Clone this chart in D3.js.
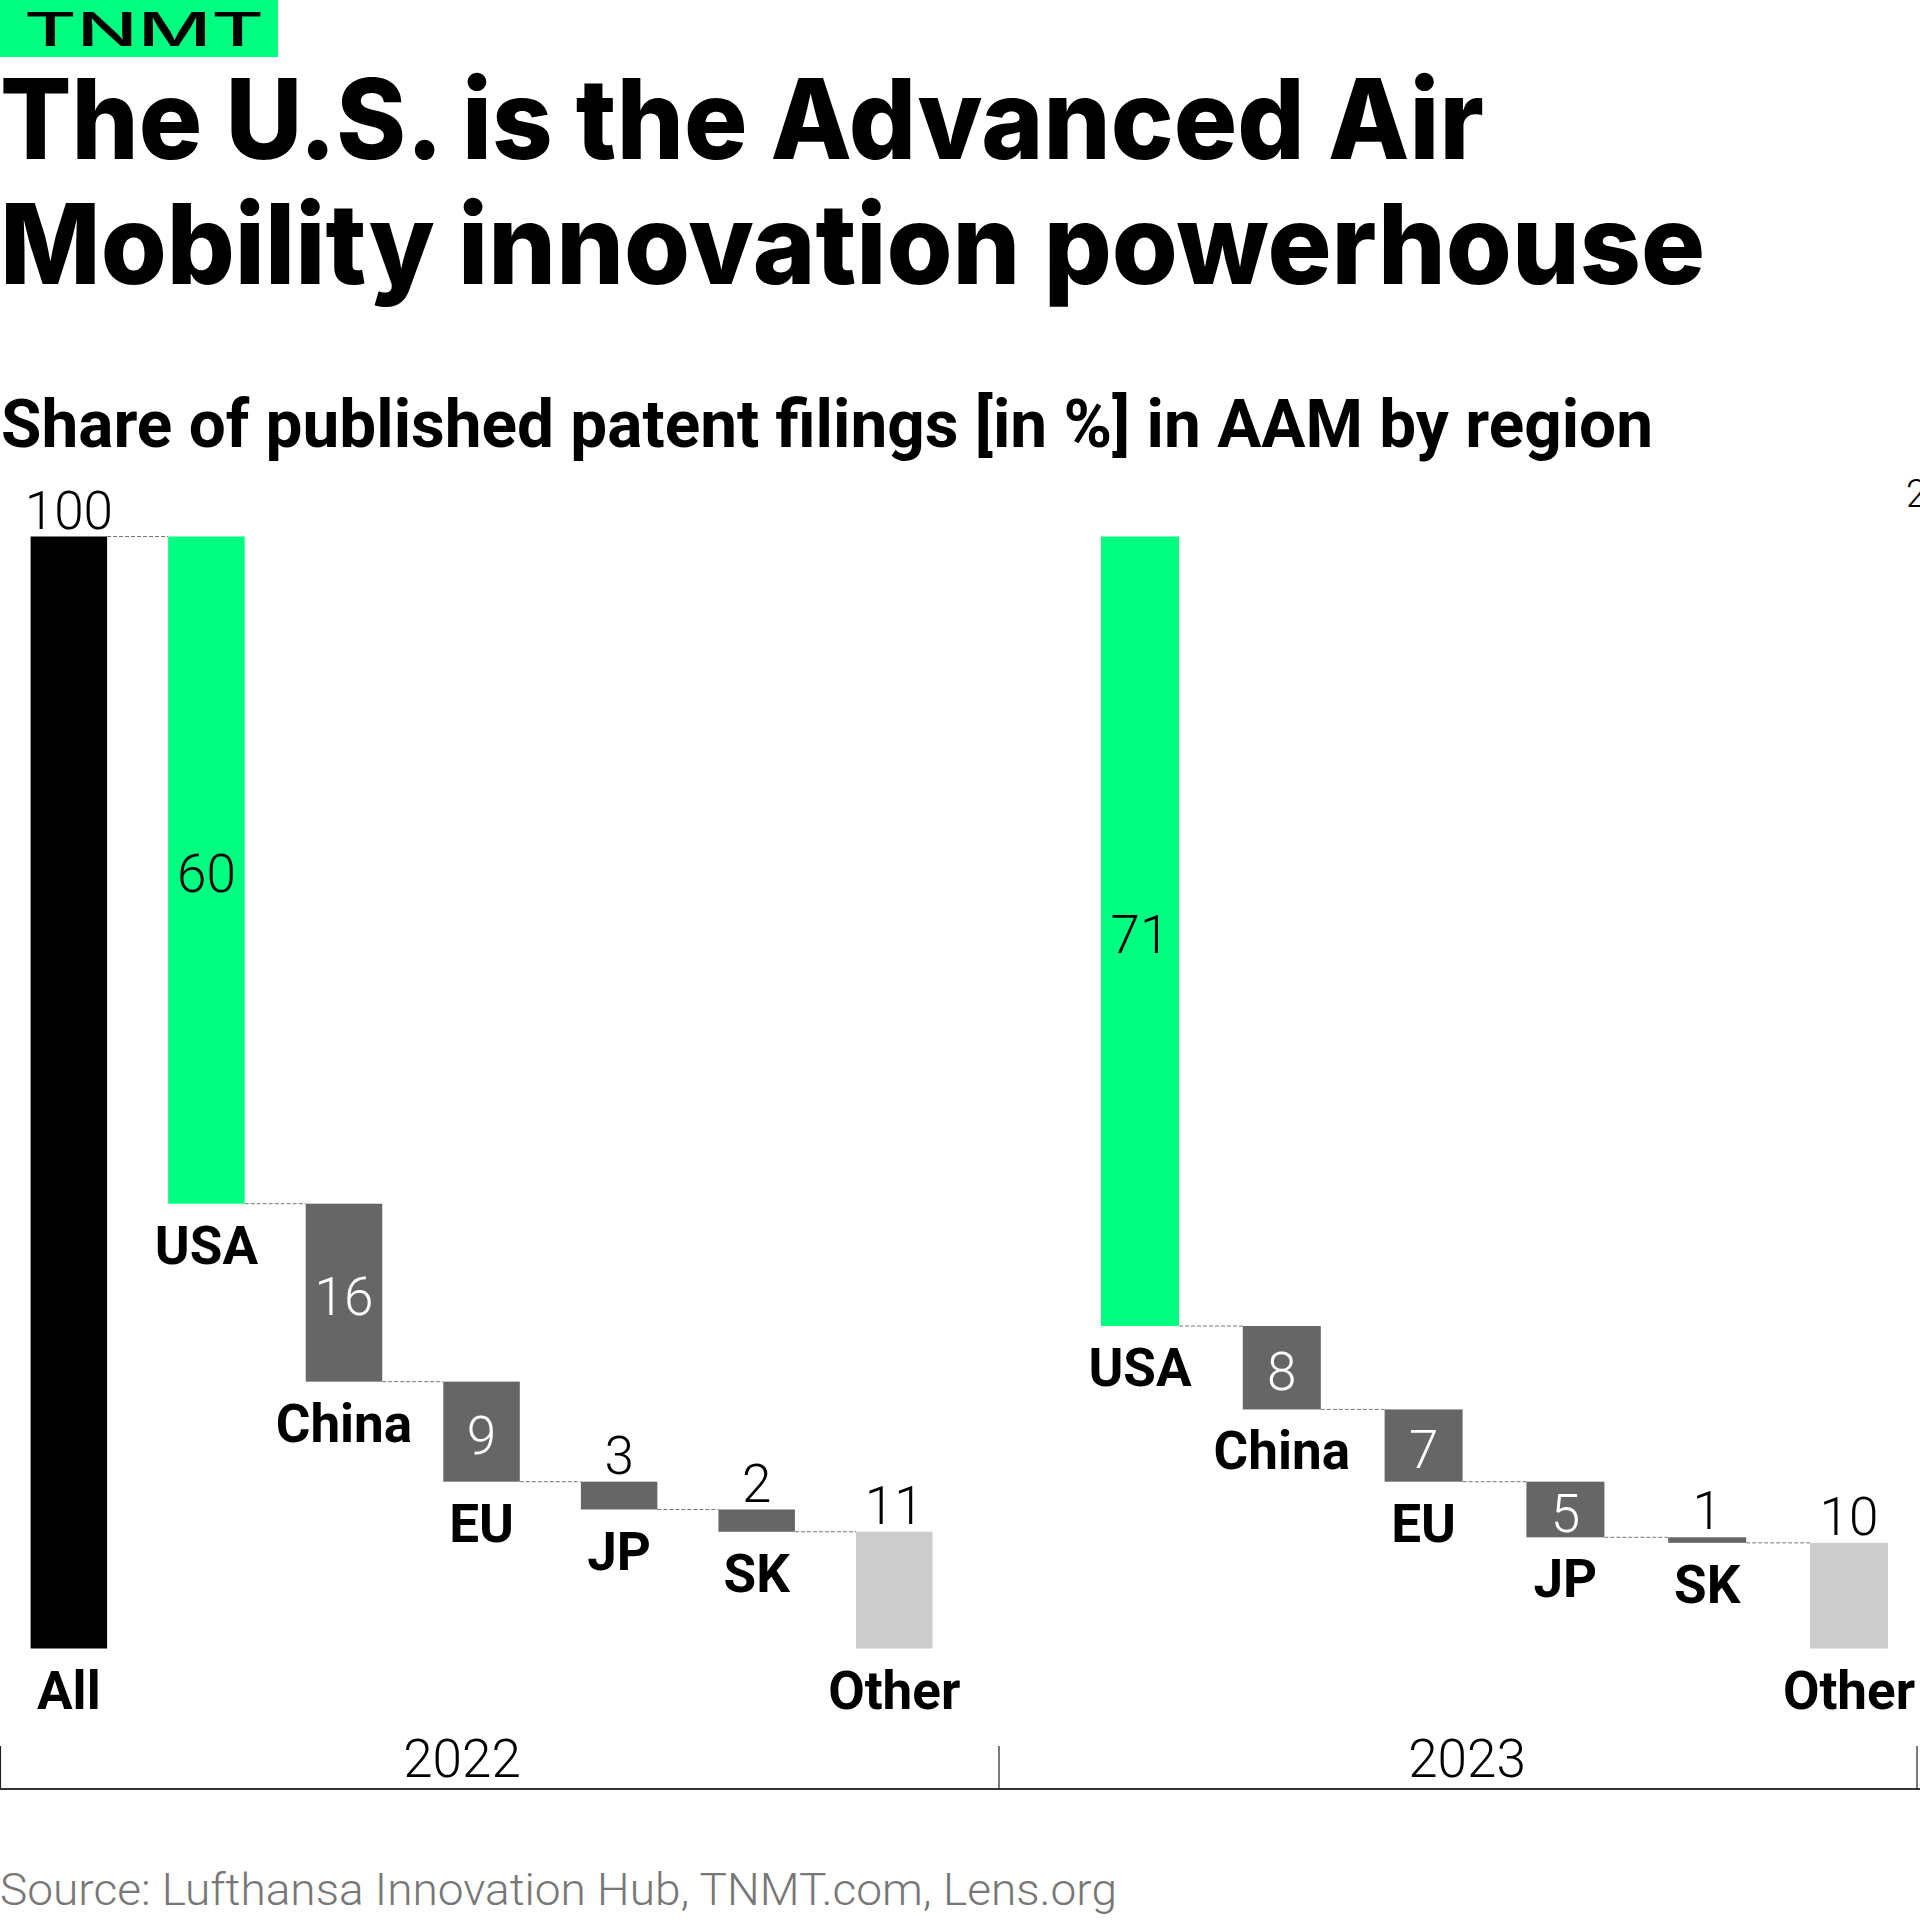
<!DOCTYPE html>
<html>
<head>
<meta charset="utf-8">
<script src="https://cdn.jsdelivr.net/npm/d3@7"></script>
<style>
  html, body { margin: 0; padding: 0; background: #fff; }
  svg { display: block; }
</style>
</head>
<body>
<div id="chart"></div>
<script>
// ---------------- DATA ----------------
const years = ["2022", "2023"];
const categories2022 = ["All", "USA", "China", "EU", "JP", "SK", "Other"];
const values2022 = [100, 60, 16, 9, 2.5, 2, 10.5];
const categories2023 = ["USA", "China", "EU", "JP", "SK", "Other"];
const values2023 = [71, 7.5, 6.5, 5, 0.5, 9.5];
const yDomain = [0, 100];

const titleLines = ["The U.S. is the Advanced Air", "Mobility innovation powerhouse"];
const subtitle = "Share of published patent filings [in %] in AAM by region";
const sourceText = "Source: Lufthansa Innovation Hub, TNMT.com, Lens.org";
const logoText = "TNMT";

// ---------------- STYLE / LAYOUT ----------------
const W = 1920, H = 1920;
const GREEN = "#00FF80", DARK = "#666666", LIGHT = "#CCCCCC", BLACK = "#000000";
const numFont = "Roboto, 'Liberation Sans', sans-serif";

const svg = d3.select("#chart").append("svg")
  .attr("width", W).attr("height", H)
  .attr("viewBox", `0 0 ${W} ${H}`);
svg.append("rect").attr("width", W).attr("height", H).attr("fill", "#fff");

// Logo
svg.append("rect").attr("x", 0).attr("y", 0).attr("width", 278).attr("height", 57).attr("fill", GREEN);
svg.append("text").attr("x", 24).attr("y", 45.5)
  .attr("font-family", "Inter, sans-serif").attr("font-weight", 500).attr("font-size", 46)
  .attr("textLength", 240).attr("lengthAdjust", "spacingAndGlyphs")
  .attr("fill", BLACK).text(logoText);

// Title
const titleWidths = [1484, 1705];
const titleBase = [159, 284];
titleLines.forEach((t, i) => {
  svg.append("text").attr("x", 0).attr("y", titleBase[i])
    .attr("font-family", "Inter, sans-serif").attr("font-weight", 800).attr("font-size", 111)
    .attr("textLength", titleWidths[i]).attr("lengthAdjust", "spacingAndGlyphs")
    .attr("fill", BLACK).text(t);
});

// Subtitle
svg.append("text").attr("x", 1).attr("y", 447)
  .attr("font-family", "Roboto, sans-serif").attr("font-weight", 700).attr("font-size", 67)
  .attr("textLength", 1652).attr("lengthAdjust", "spacingAndGlyphs")
  .attr("fill", BLACK).text(subtitle);

// Clipped label at the top right edge (as in the reference)
svg.append("text").attr("x", 1906).attr("y", 507)
  .attr("font-family", numFont).attr("font-weight", 300).attr("font-size", 38)
  .attr("fill", BLACK).text("2");

// ---------------- CHART ----------------
const y = d3.scaleLinear().domain(yDomain).range([1648.5, 536.5]);

const sections = [
  { year: years[0], cats: categories2022, vals: values2022, range: [30.6, 932.5], pad: 0.444 },
  { year: years[1], cats: categories2023, vals: values2023, range: [1101, 1888], pad: 0.45 }
];

function colorFor(cat) {
  if (cat === "All") return BLACK;
  if (cat === "USA") return GREEN;
  if (cat === "Other") return LIGHT;
  return DARK;
}

sections.forEach(sec => {
  const x = d3.scaleBand().domain(sec.cats).range(sec.range).paddingInner(sec.pad).paddingOuter(0);
  const total = d3.sum(sec.cats.map((c, i) => c === "All" ? 0 : sec.vals[i]));
  let running = total;
  const bars = sec.cats.map((c, i) => {
    const v = sec.vals[i];
    let lo, hi;
    if (c === "All") { lo = 0; hi = v; running = v; }
    else if (c === "Other") { lo = 0; hi = v; }
    else { hi = running; lo = running - v; running = lo; }
    return { cat: c, v, lo, hi };
  });

  const g = svg.append("g");

  // connectors
  bars.forEach((b, i) => {
    if (i === bars.length - 1) return;
    const level = b.cat === "All" ? b.hi : b.lo;
    const nxt = bars[i + 1];
    g.append("line")
      .attr("x1", x(b.cat) + x.bandwidth()).attr("x2", x(nxt.cat))
      .attr("y1", y(level)).attr("y2", y(level))
      .attr("stroke", "#777").attr("stroke-width", 1).attr("stroke-dasharray", "4,2");
  });

  // bars
  g.selectAll("rect.bar").data(bars).join("rect")
    .attr("class", "bar")
    .attr("x", d => x(d.cat)).attr("width", x.bandwidth())
    .attr("y", d => y(d.hi)).attr("height", d => y(d.lo) - y(d.hi))
    .attr("fill", d => colorFor(d.cat));

  // value labels
  bars.forEach(b => {
    const h = y(b.lo) - y(b.hi);
    const isTotal = b.cat === "All" || b.cat === "Other";
    const inside = !isTotal && h >= 45;
    const cx = x(b.cat) + x.bandwidth() / 2;
    const t = g.append("text")
      .attr("x", cx).attr("text-anchor", "middle")
      .attr("font-family", numFont).attr("font-weight", 300).attr("font-size", 53)
      .text(String(Math.round(b.v)));
    if (inside) {
      t.attr("y", (y(b.lo) + y(b.hi)) / 2 + 22)
        .attr("fill", b.cat === "USA" ? BLACK : "#fff");
    } else {
      t.attr("y", y(b.hi) - 8).attr("fill", BLACK);
    }
  });

  // category labels
  g.selectAll("text.cat").data(bars).join("text")
    .attr("class", "cat")
    .attr("x", d => x(d.cat) + x.bandwidth() / 2)
    .attr("y", d => y(d.lo) + 60)
    .attr("text-anchor", "middle")
    .attr("font-family", "Roboto, sans-serif").attr("font-weight", 700).attr("font-size", 53)
    .attr("fill", BLACK)
    .text(d => d.cat);
});

// ---------------- AXIS (sections) ----------------
const axisY = 1789;
const bounds = [0.5, 999, 1917];
const yearX = [462, 1467];
svg.append("line").attr("x1", 0).attr("x2", W).attr("y1", axisY).attr("y2", axisY)
  .attr("stroke", "#333").attr("stroke-width", 2);
bounds.forEach(bx => {
  svg.append("line").attr("x1", bx).attr("x2", bx).attr("y1", 1746).attr("y2", axisY)
    .attr("stroke", "#222").attr("stroke-width", 1.2);
});
years.forEach((yr, i) => {
  svg.append("text").attr("x", yearX[i]).attr("y", 1777).attr("text-anchor", "middle")
    .attr("font-family", numFont).attr("font-weight", 300).attr("font-size", 53)
    .attr("fill", BLACK).text(yr);
});

// Source
svg.append("text").attr("x", 0).attr("y", 1905)
  .attr("font-family", numFont).attr("font-weight", 300).attr("font-size", 44)
  .attr("textLength", 1117).attr("lengthAdjust", "spacingAndGlyphs")
  .attr("fill", "#777").text(sourceText);
</script>
</body>
</html>
